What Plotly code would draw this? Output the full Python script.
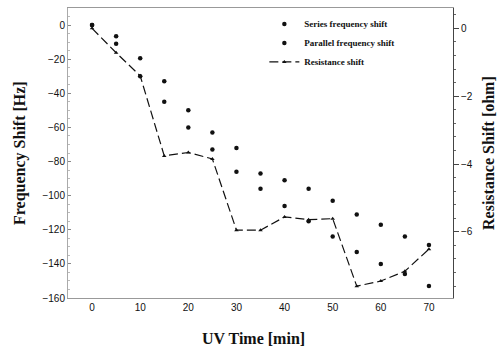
import plotly.graph_objects as go

uv_time = [0, 5, 10, 15, 20, 25, 30, 35, 40, 45, 50, 55, 60, 65, 70]
series_shift = [0, -11, -30, -45, -60, -73, -86, -96, -106, -115, -124, -133, -140, -146, -153]
parallel_shift = [0, -6.5, -19.5, -33, -50, -63, -72, -87, -91, -96, -103, -111, -117, -124, -129]
resistance_shift = [0, -0.72, -1.40, -3.76, -3.66, -3.85, -5.95, -5.95, -5.56, -5.64, -5.61, -7.60, -7.45, -7.16, -6.51]

x_ticks = [0, 10, 20, 30, 40, 50, 60, 70]
y_left_ticks = [0, -20, -40, -60, -80, -100, -120, -140, -160]
y_right_ticks = [0, -2, -4, -6, -8]

tick_font = dict(family="Liberation Sans, Arial, sans-serif", size=10, color="#111")
legend_font = dict(family="Liberation Serif, Times New Roman, serif", size=9, color="#111")
title_family = "Liberation Serif, Times New Roman, serif"

fig = go.Figure()
fig.add_trace(go.Scatter(x=uv_time, y=series_shift, mode="markers",
                         name="<b>Series frequency shift</b>",
                         marker=dict(symbol="circle", size=4.5, color="#111")))
fig.add_trace(go.Scatter(x=uv_time, y=parallel_shift, mode="markers",
                         name="<b>Parallel frequency shift</b>",
                         marker=dict(symbol="circle", size=4.5, color="#111")))
fig.add_trace(go.Scatter(x=uv_time, y=resistance_shift, mode="lines+markers", yaxis="y2",
                         name="<b>Resistance shift</b>",
                         line=dict(color="#111", width=1.2, dash="9px,4px"),
                         marker=dict(symbol="triangle-up", size=4, color="#111")))

fig.update_layout(
    width=500, height=353,
    margin=dict(l=68, r=47, t=8, b=55),
    plot_bgcolor="white", paper_bgcolor="white",
    showlegend=True,
    legend=dict(x=0.51, y=0.995, xanchor="left", yanchor="top", font=legend_font,
                bgcolor="rgba(0,0,0,0)", itemwidth=30, tracegroupgap=0,
                itemsizing="trace"),
    xaxis=dict(range=[-5, 75], tickvals=x_ticks, showgrid=False, zeroline=False,
               showline=True, linecolor="#999", linewidth=1, mirror=True,
               ticks="", tickfont=tick_font, automargin=False),
    yaxis=dict(range=[-160, 10], tickvals=y_left_ticks, showgrid=False, zeroline=False,
               showline=True, linecolor="#aaa", linewidth=1,
               ticks="inside", ticklen=3, tickcolor="#888",
               minor=dict(ticks="inside", ticklen=2, tickcolor="#bbb", dtick=5),
               tickfont=tick_font, automargin=False),
    yaxis2=dict(range=[-7.95, 0.6], tickvals=y_right_ticks, overlaying="y", side="right",
                showgrid=False, zeroline=False, showline=True, linecolor="#444", linewidth=1,
                ticks="outside", ticklen=5, tickcolor="#444",
                minor=dict(ticks="outside", ticklen=2, tickcolor="#666", dtick=0.4),
                tickfont=tick_font, automargin=False),
    annotations=[
        dict(text="<b>Frequency Shift [Hz]</b>", xref="paper", yref="paper", x=0, y=0.5,
             xanchor="center", yanchor="middle",
             xshift=-48, textangle=-90, showarrow=False,
             font=dict(family=title_family, size=16, color="#111")),
        dict(text="<b>Resistance Shift [ohm]</b>", xref="paper", yref="paper", x=1, y=0.5,
             xanchor="center", yanchor="middle",
             xshift=35, textangle=-90, showarrow=False,
             font=dict(family=title_family, size=16, color="#111")),
        dict(text="<b>UV Time [min]</b>", xref="paper", yref="paper", x=0.483, y=0,
             xanchor="center", yanchor="middle",
             yshift=-40, showarrow=False,
             font=dict(family=title_family, size=16, color="#111")),
    ],
)

fig.write_html("out.html", config={"displayModeBar": False},
               post_script="document.body.style.margin='0';")
